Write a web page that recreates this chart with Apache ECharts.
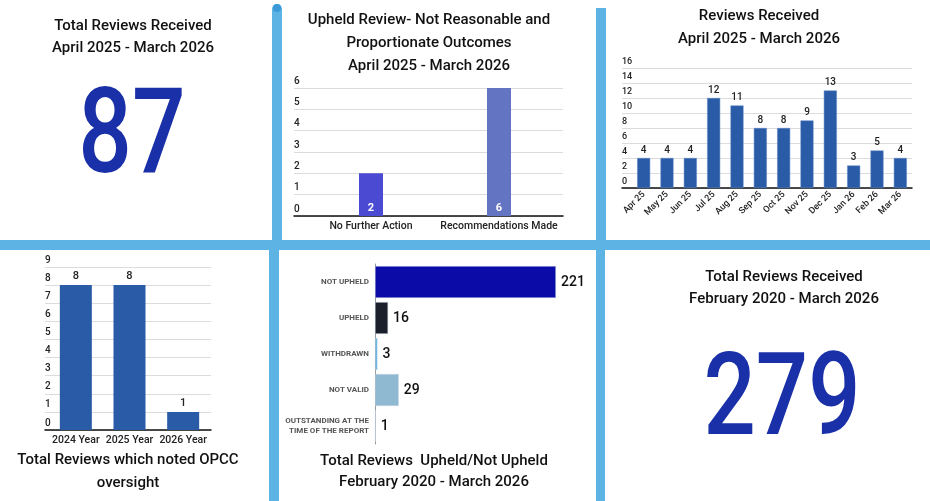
<!DOCTYPE html>
<html>
<head>
<meta charset="utf-8">
<script src="https://cdn.jsdelivr.net/npm/echarts@6/dist/echarts.min.js"></script>
<style>
html,body{margin:0;padding:0;background:#fff;}
#c{width:930px;height:501px;}
</style>
</head>
<body>
<div id="c"></div>
<script>
// ---- data ----
const totalYear = 87;
const totalAll = 279;
const outcomeCats = ['No Further Action', 'Recommendations Made'];
const outcomeVals = [2, 6];
const outcomeColors = ['#4a4bd2', '#6274c2'];
const monthCats = ['Apr 25','May 25','Jun 25','Jul 25','Aug 25','Sep 25','Oct 25','Nov 25','Dec 25','Jan 26','Feb 26','Mar 26'];
const monthVals = [4, 4, 4, 12, 11, 8, 8, 9, 13, 3, 5, 4];
const oversightCats = ['2024 Year', '2025 Year', '2026 Year'];
const oversightVals = [8, 8, 1];
const statusCats = ['NOT UPHELD', 'UPHELD', 'WITHDRAWN', 'NOT VALID', 'OUTSTANDING AT THE\nTIME OF THE REPORT'];
const statusVals = [221, 16, 3, 29, 1];
const statusColors = ['#0b0ba8', '#1b1f2b', '#5cb3e4', '#8fb8d1', '#b2a2d4'];

const FONT = 'Roboto';
const BLUE = '#5cb3e4';
const BAR = '#2a5ba7';

const chart = echarts.init(document.getElementById('c'), null, {renderer: 'canvas'});

function txt(x, y, s, size, color, extra) {
  return Object.assign({
    type: 'text', x: x, y: y, z: 10,
    style: {text: s, fontFamily: FONT, fontSize: size, fontWeight: 500, fill: color || '#111',
      align: 'center', verticalAlign: 'middle'}
  }, extra || {});
}

const gridY = (idx, min, max, interval, fs) => ({
  gridIndex: idx, type: 'value', min: min, max: max, interval: interval,
  axisLine: {show: false}, axisTick: {show: false},
  splitLine: {show: true, lineStyle: {color: '#dcdcdc', width: 1}},
  axisLabel: {show: true, inside: true, align: 'left', verticalAlign: 'bottom', margin: 0,
    padding: [0, 0, 2, 0], fontFamily: FONT, fontSize: fs || 10, fontWeight: 500, color: '#222'}
});
const gridX = (idx) => ({
  gridIndex: idx, type: 'value', min: 0, max: 1,
  axisLine: {show: true, lineStyle: {color: '#111', width: 1.5}},
  axisTick: {show: false}, axisLabel: {show: false}, splitLine: {show: false}
});
const hiddenY = (idx, min, max, interval) => ({
  gridIndex: idx, type: 'value', min: min, max: max, interval: interval,
  axisLine: {show: false}, axisTick: {show: false}, axisLabel: {show: false}, splitLine: {show: false}
});

const option = {
  animation: false,
  backgroundColor: '#fff',
  grid: [
    {left: 307, width: 256, top: 88, height: 128},   // 0 outcome bars
    {left: 294, width: 269, top: 88, height: 128},   // 1 outcome gridlines
    {left: 632, width: 280, top: 68, height: 120},   // 2 monthly bars
    {left: 622, width: 290, top: 68, height: 120},   // 3 monthly gridlines
    {left: 49, width: 161, top: 267, height: 163},   // 4 oversight bars
    {left: 45, width: 166, top: 267, height: 163},   // 5 oversight gridlines
    {left: 375, width: 181, top: 264, height: 180}   // 6 status bars
  ],
  xAxis: [
    {gridIndex: 0, type: 'category', data: outcomeCats,
      axisLine: {show: false}, axisTick: {show: false},
      axisLabel: {interval: 0, margin: 5, fontFamily: FONT, fontSize: 10.5, fontWeight: 500, color: '#222'}},
    gridX(1),
    {gridIndex: 2, type: 'category', data: monthCats,
      axisLine: {show: false}, axisTick: {show: false},
      axisLabel: {rotate: 45, margin: 5, interval: 0, fontFamily: FONT, fontSize: 9, fontWeight: 500, color: '#222'}},
    gridX(3),
    {gridIndex: 4, type: 'category', data: oversightCats,
      axisLine: {show: false}, axisTick: {show: false},
      axisLabel: {interval: 0, margin: 5, fontFamily: FONT, fontSize: 10.5, fontWeight: 500, color: '#222'}},
    gridX(5),
    {gridIndex: 6, type: 'value', min: 0, max: 221, show: false}
  ],
  yAxis: [
    hiddenY(0, 0, 6, 1),
    gridY(1, 0, 6, 1, 10),
    hiddenY(2, 0, 16, 2),
    gridY(3, 0, 16, 2, 9),
    hiddenY(4, 0, 9, 1),
    gridY(5, 0, 9, 1, 10),
    {gridIndex: 6, type: 'category', data: statusCats, inverse: true,
      axisLine: {show: true, lineStyle: {color: '#9a9a9a', width: 1}},
      axisTick: {show: false},
      axisLabel: {margin: 6, align: 'right', fontFamily: FONT, fontSize: 8, fontWeight: 'bold', color: '#555', lineHeight: 10}}
  ],
  series: [
    {type: 'bar', xAxisIndex: 0, yAxisIndex: 0, barWidth: 24,
      data: outcomeVals.map((v, i) => ({value: v, itemStyle: {color: outcomeColors[i]}})),
      label: {show: true, position: 'insideBottom', distance: 2, color: '#fff', fontFamily: FONT, fontSize: 11, fontWeight: 'bold'}},
    {type: 'bar', xAxisIndex: 2, yAxisIndex: 2, barWidth: 13, data: monthVals,
      itemStyle: {color: BAR, borderColor: '#5d86c4', borderWidth: 0.5},
      label: {show: true, position: 'top', distance: 3, color: '#222', fontFamily: FONT, fontSize: 10, fontWeight: 500}},
    {type: 'bar', xAxisIndex: 4, yAxisIndex: 4, barWidth: 32, data: oversightVals,
      itemStyle: {color: BAR},
      label: {show: true, position: 'top', distance: 3, color: '#222', fontFamily: FONT, fontSize: 11, fontWeight: 500}},
    {type: 'bar', xAxisIndex: 6, yAxisIndex: 6, barWidth: 32,
      data: statusVals.map((v, i) => ({value: v, itemStyle: {color: statusColors[i], borderColor: 'rgba(200,210,230,0.8)', borderWidth: 0.6}})),
      label: {show: true, position: 'right', distance: 5, color: '#111', fontFamily: FONT, fontSize: 14, fontWeight: 500}}
  ],
  graphic: [
    // dividers
    {type: 'rect', shape: {x: 0, y: 240, width: 930, height: 10}, style: {fill: BLUE}, z: 5},
    {type: 'rect', shape: {x: 272, y: 4, width: 10, height: 240, r: [5, 5, 0, 0]}, style: {fill: BLUE}, z: 5},
    {type: 'circle', shape: {cx: 277, cy: 8, r: 4}, style: {fill: '#3c9ada'}, z: 6},
    {type: 'rect', shape: {x: 596, y: 8, width: 10, height: 236}, style: {fill: BLUE}, z: 5},
    {type: 'rect', shape: {x: 269, y: 246, width: 10, height: 255}, style: {fill: BLUE}, z: 5},
    {type: 'rect', shape: {x: 596, y: 246, width: 9, height: 255}, style: {fill: BLUE}, z: 5},
    // panel 1
    txt(133, 26, 'Total Reviews Received', 15),
    txt(133, 48, 'April 2025 - March 2026', 15),
    txt(132, 142, String(totalYear), 118, '#1a30a8', {scaleX: 0.8}),
    // panel 2 title
    txt(429, 20, 'Upheld Review- Not Reasonable and', 15),
    txt(429, 43, 'Proportionate Outcomes', 15),
    txt(429, 66, 'April 2025 - March 2026', 15),
    // panel 3 title
    txt(759, 16, 'Reviews Received', 15),
    txt(759, 39, 'April 2025 - March 2026', 15),
    // panel 4 title
    txt(128, 460, 'Total Reviews which noted OPCC', 15),
    txt(128, 483, 'oversight', 15),
    // panel 5 title
    txt(434, 461, 'Total Reviews  Upheld/Not Upheld', 15),
    txt(434, 482, 'February 2020 - March 2026', 15),
    // panel 6
    txt(784, 277, 'Total Reviews Received', 15),
    txt(784, 299, 'February 2020 - March 2026', 15),
    txt(782, 405, String(totalAll), 115, '#1a30a8', {scaleX: 0.8})
  ]
};
chart.setOption(option);
</script>
</body>
</html>
